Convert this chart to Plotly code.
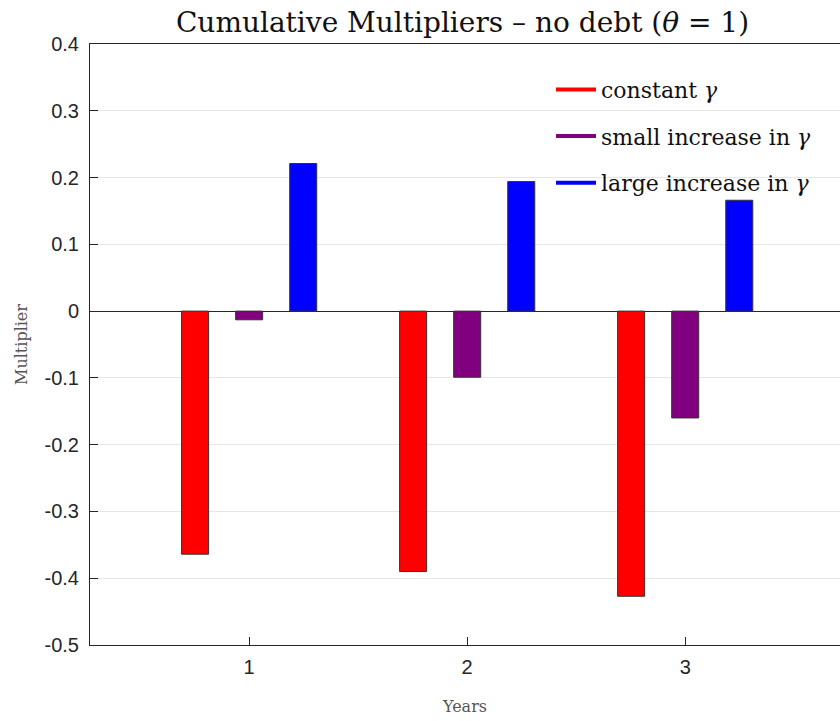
import plotly.graph_objects as go

years = [1, 2, 3]
constant_gamma = [-0.364, -0.390, -0.427]
small_increase = [-0.013, -0.099, -0.160]
large_increase = [0.221, 0.194, 0.166]

series_names = ["constant <i>γ</i>", "small increase in <i>γ</i>", "large increase in <i>γ</i>"]
series_values = [constant_gamma, small_increase, large_increase]
series_colors = ["#ff0000", "#800080", "#0000ff"]

y_ticks = [0.4, 0.3, 0.2, 0.1, 0, -0.1, -0.2, -0.3, -0.4, -0.5]
y_tick_labels = ["0.4", "0.3", "0.2", "0.1", "0", "-0.1", "-0.2", "-0.3", "-0.4", "-0.5"]

serif = "DejaVu Serif, Liberation Serif, serif"
sans = "Liberation Sans, Arial, sans-serif"

fig = go.Figure()
for name, vals, col in zip(series_names, series_values, series_colors):
    fig.add_trace(go.Bar(x=years, y=vals, marker=dict(color=col, line=dict(color="#333333", width=1)),
                         showlegend=False, name=name))
for i, (name, col) in enumerate(zip(series_names, series_colors)):
    fig.add_trace(go.Scatter(x=[None], y=[None], mode="lines", line=dict(color=col, width=4),
                             name=name, legendgroup=f"g{i}", showlegend=True))

fig.update_layout(
    width=840, height=721,
    margin=dict(l=90, r=0, t=44, b=76),
    paper_bgcolor="white", plot_bgcolor="white",
    barmode="group", bargap=0.256, bargroupgap=0.5,
    title=dict(text="Cumulative Multipliers – no debt (<i>θ</i> = 1)", x=0.5506, xanchor="center",
               y=0.9695, yanchor="middle", font=dict(family=serif, size=28, color="#111111")),
    legend=dict(x=0.6147, y=0.959, xanchor="left", yanchor="top", bgcolor="rgba(0,0,0,0)",
                font=dict(family=serif, size=22, color="#111111"), traceorder="grouped",
                tracegroupgap=15, itemwidth=40),
    xaxis=dict(range=[0.27, 3.71], tickvals=years, ticktext=[str(v) for v in years],
               ticks="inside", ticklen=8, tickcolor="#262626", showline=True, linecolor="#262626",
               linewidth=1, mirror=True, showgrid=False, zeroline=False, ticklabelstandoff=4,
               tickfont=dict(family=sans, size=20, color="#262626"),
               title=dict(text="Years", font=dict(family=serif, size=16, color="#555555"), standoff=23)),
    yaxis=dict(range=[-0.5, 0.4], tickvals=y_ticks, ticktext=y_tick_labels,
               ticks="inside", ticklen=8, tickcolor="#262626", showline=True, linecolor="#262626",
               linewidth=1, mirror=False, showgrid=True, gridcolor="#e6e6e6", gridwidth=1,
               zeroline=True, zerolinecolor="#262626", zerolinewidth=1, ticklabelstandoff=6,
               tickfont=dict(family=sans, size=20, color="#262626"),
               title=dict(text="Multiplier", font=dict(family=serif, size=16, color="#555555"), standoff=12)),
)

fig.write_html("out.html", config={"displayModeBar": False},
               post_script="document.body.style.margin='0';document.body.style.overflow='hidden';")
